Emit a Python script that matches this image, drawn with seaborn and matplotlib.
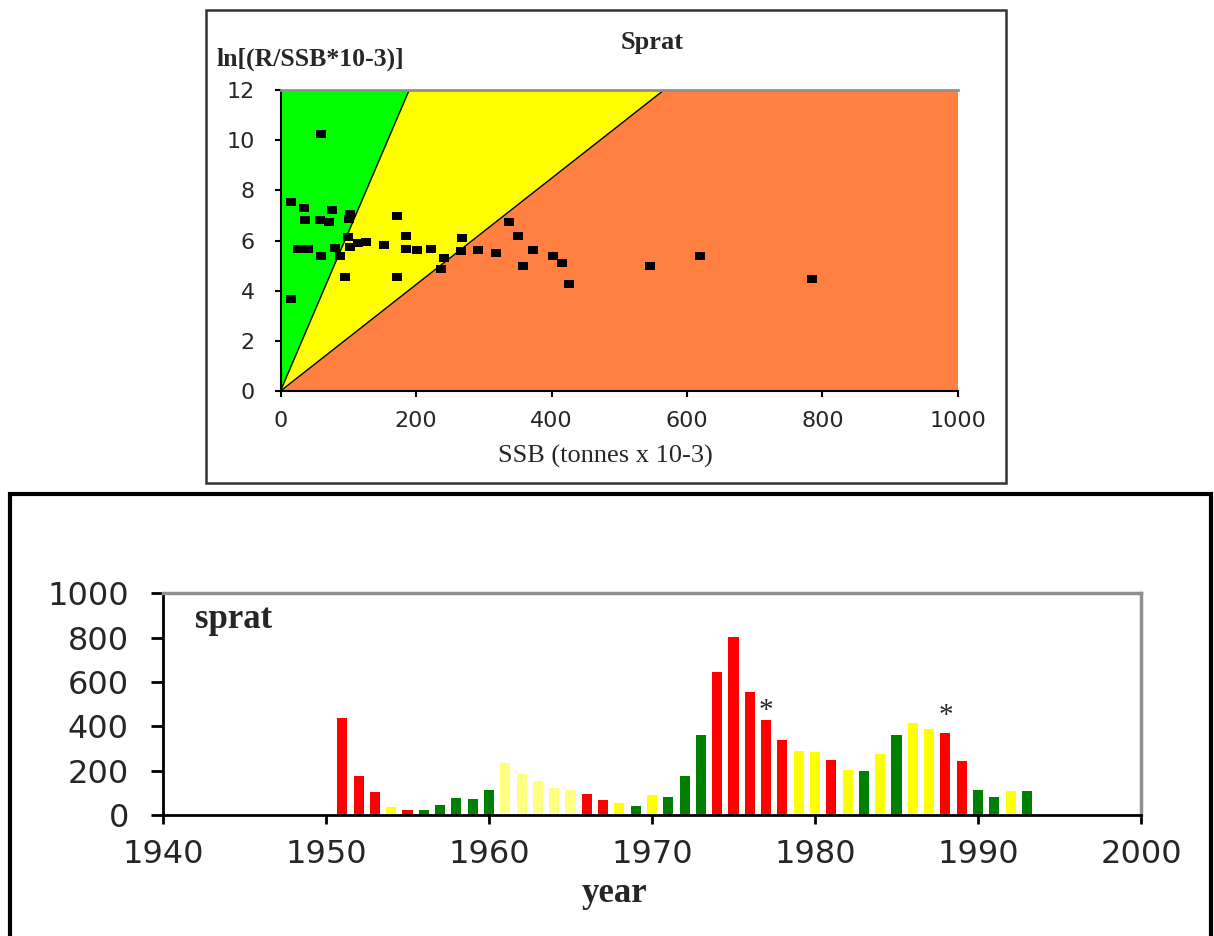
import pandas as pd
import seaborn as sns
import matplotlib.pyplot as plt
from matplotlib.patches import Rectangle

# upper panel: ln(R/SSB) against SSB
ssb_points = [60, 16, 34, 36, 59, 72, 76, 103, 101, 100, 103, 114, 126, 26, 41,
              60, 81, 88, 95, 16, 172, 153, 185, 185, 202, 222, 172, 242, 237,
              268, 266, 292, 318, 337, 350, 372, 358, 402, 416, 426, 545, 619, 785]
ln_rs_points = [10.25, 7.55, 7.3, 6.8, 6.8, 6.75, 7.2, 7.05, 6.85, 6.15, 5.75, 5.9,
                5.93, 5.65, 5.68, 5.4, 5.7, 5.4, 4.55, 3.65, 6.97, 5.82, 6.17, 5.68,
                5.64, 5.68, 4.55, 5.3, 4.85, 6.1, 5.57, 5.64, 5.5, 6.75, 6.17, 5.64,
                5.0, 5.4, 5.1, 4.25, 5.0, 5.4, 4.47]

# zone boundaries: SSB where each boundary line reaches the top of the plot
zone_top = 12
green_edge = 190
orange_edge = 566

# lower panel: SSB by year, coloured by zone
years = list(range(1951, 1994))
ssb_by_year = [439, 177, 102, 35, 24, 22, 45, 75, 71, 113,
               233, 185, 153, 123, 113, 93, 66, 55, 41, 90,
               81, 177, 361, 645, 802, 553, 428, 338, 290, 286,
               248, 203, 198, 275, 361, 414, 387, 370, 244, 113,
               83, 107, 110]
zones = ['r', 'r', 'r', 'y', 'r', 'g', 'g', 'g', 'g', 'g',
         'ly', 'ly', 'ly', 'ly', 'ly', 'r', 'r', 'y', 'g', 'y',
         'g', 'g', 'g', 'r', 'r', 'r', 'r', 'r', 'y', 'y',
         'r', 'y', 'g', 'y', 'g', 'y', 'y', 'r', 'r', 'g',
         'g', 'y', 'g']
starred_years = [1977, 1988]
star_heights = [470, 448]

zone_colours = {'r': '#FF0000', 'g': '#008000', 'y': '#FFFF00', 'ly': '#FFFF80'}

sns.set_style("ticks")
plt.rcParams['font.family'] = ['DejaVu Sans']
SERIF = 'Liberation Serif'

W, H = 1214, 936
fig = plt.figure(figsize=(W / 100, H / 100), dpi=100)


def fx(px):
    return px / W


def fy(py):
    return 1 - py / H


# frames around both panels
fig.add_artist(Rectangle((fx(206), fy(483)), fx(800), 473 / H, transform=fig.transFigure,
                         fill=False, ec='#333333', lw=1.8))
fig.add_artist(Rectangle((fx(10), -0.01), fx(1201), fy(494) + 0.01, transform=fig.transFigure,
                         fill=False, ec='black', lw=3))

# ---- upper panel
ax1 = fig.add_axes([fx(280.5), fy(391), 677.5 / W, 301 / H])
ax1.fill([0, green_edge, 0], [0, zone_top, zone_top], color='#00FF00', lw=0)
ax1.fill([0, orange_edge, green_edge], [0, zone_top, zone_top], color='#FFFF00', lw=0)
ax1.fill([0, 1000, 1000, orange_edge], [0, 0, zone_top, zone_top], color='#FF8040', lw=0)
ax1.plot([0, green_edge], [0, zone_top], color='black', lw=1)
ax1.plot([0, orange_edge], [0, zone_top], color='black', lw=1)
rect_marker = [(-1.3, -1), (1.3, -1), (1.3, 1), (-1.3, 1), (-1.3, -1)]
sns.scatterplot(x=ssb_points, y=ln_rs_points, marker=rect_marker, color='black',
                s=55, linewidth=0, ax=ax1, zorder=5)
ax1.set_xlim(0, 1000)
ax1.set_ylim(0, 12)
ax1.set_xticks(range(0, 1001, 200))
ax1.set_yticks(range(0, 13, 2))
ax1.tick_params(axis='both', labelsize=16, length=4.5, width=1.5, color='black')
ax1.tick_params(axis='x', pad=10)
ax1.tick_params(axis='y', pad=14)
for s in ['left', 'bottom']:
    ax1.spines[s].set_color('black')
    ax1.spines[s].set_linewidth(1.5)
ax1.spines['top'].set_color('#909090')
ax1.spines['top'].set_linewidth(2)
ax1.spines['right'].set_visible(False)

fig.text(fx(652), fy(42), 'Sprat', family=SERIF, weight='bold', fontsize=19,
         ha='center', va='center')
fig.text(fx(217), fy(59), 'ln[(R/SSB*10-3)]', family=SERIF, weight='bold', fontsize=18.5,
         ha='left', va='center')
fig.text(fx(605), fy(456), 'SSB (tonnes x 10-3)', family=SERIF, fontsize=19,
         ha='center', va='center')

# ---- lower panel
ax2 = fig.add_axes([fx(163), fy(815), 978 / W, 221.7 / H])
df = pd.DataFrame({'year': years, 'ssb': ssb_by_year, 'zone': zones})
sns.barplot(data=df, x='year', y='ssb', hue='zone', palette=zone_colours,
            native_scale=True, width=0.62, dodge=False, legend=False,
            errorbar=None, saturation=1, linewidth=0, ax=ax2)
for yr, h in zip(starred_years, star_heights):
    ax2.text(yr, h, '*', ha='center', va='center', fontsize=21, family=SERIF)
ax2.set_xlim(1940, 2000)
ax2.set_ylim(0, 1000)
ax2.set_xticks(range(1940, 2001, 10))
ax2.set_yticks(range(0, 1001, 200))
ax2.set_xlabel('')
ax2.set_ylabel('')
ax2.tick_params(axis='both', labelsize=23, width=2, color='black')
ax2.tick_params(axis='x', length=6.5, pad=11)
ax2.tick_params(axis='y', length=8.6, pad=16)
for s in ['left', 'bottom']:
    ax2.spines[s].set_color('black')
    ax2.spines[s].set_linewidth(2)
for s in ['top', 'right']:
    ax2.spines[s].set_visible(True)
    ax2.spines[s].set_color('#909090')
    ax2.spines[s].set_linewidth(2.5)

fig.text(fx(195), fy(620), 'sprat', family=SERIF, weight='bold',
         fontsize=25, ha='left', va='center')
fig.text(fx(614), fy(893), 'year', family=SERIF, weight='bold', fontsize=25,
         ha='center', va='center')

fig.savefig('out.png', dpi=100)
